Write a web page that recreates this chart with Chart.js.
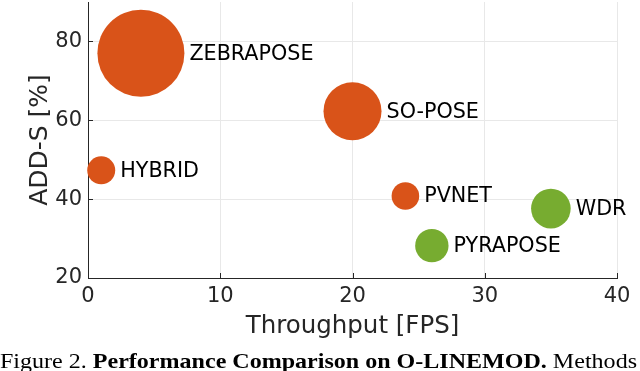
<!DOCTYPE html>
<html><head><meta charset="utf-8">
<script src="https://cdn.jsdelivr.net/npm/chart.js@4"></script>
<style>
html,body{margin:0;padding:0;background:#fff;}
#wrap{position:relative;width:640px;height:371px;overflow:hidden;background:#fff;}
canvas{position:absolute;left:0;top:0;}
#cap{position:absolute;left:0;top:350px;white-space:nowrap;font-family:"Liberation Serif","Times New Roman",serif;font-size:22px;color:#000;transform-origin:0 0;line-height:1;}
</style></head><body>
<div id="wrap"><canvas id="c" width="640" height="371"></canvas><div id="cap"><span>Figure 2. </span><b>Performance Comparison on O-LINEMOD.</b><span> Methods</span></div></div>
<script>
const methods = ['ZEBRAPOSE', 'SO-POSE', 'HYBRID', 'PVNET', 'WDR', 'PYRAPOSE'];
const throughputFps = [4, 20, 1, 24, 35, 26];
const addS = [77, 62.3, 47.3, 40.8, 37.6, 28.2];
const bubbleSize = [43.5, 29, 14, 13.8, 19.8, 16.7];
const methodGroup = ['a', 'a', 'a', 'a', 'b', 'b'];
const xTicks = [0, 10, 20, 30, 40];
const yTicks = [20, 40, 60, 80];

const groupColor = { a: '#D95319', b: '#77AC30' };
const axisColor = '#262626';
Chart.defaults.font.family = '"DejaVu Sans", sans-serif';

const points = methods.map((m, i) => ({ x: throughputFps[i], y: addS[i], r: bubbleSize[i] }));

const innerTicks = {
  id: 'innerTicks',
  beforeDatasetsDraw(chart) {
    const { ctx, chartArea: a, scales: { x, y } } = chart;
    const len = 5;
    ctx.save();
    ctx.strokeStyle = axisColor;
    ctx.lineWidth = 1;
    ctx.beginPath();
    xTicks.forEach(v => {
      const px = Math.round(x.getPixelForValue(v)) + 0.5;
      ctx.moveTo(px, a.bottom); ctx.lineTo(px, a.bottom - len);
    });
    yTicks.forEach(v => {
      const py = Math.round(y.getPixelForValue(v)) + 0.5;
      ctx.moveTo(a.left, py); ctx.lineTo(a.left + len, py);
    });
    ctx.stroke();
    ctx.restore();
  }
};

const pointLabels = {
  id: 'pointLabels',
  afterDatasetsDraw(chart) {
    const { ctx } = chart;
    const meta = chart.getDatasetMeta(0);
    ctx.save();
    ctx.fillStyle = '#000';
    ctx.font = '20.7px "DejaVu Sans"';
    ctx.textAlign = 'left';
    ctx.textBaseline = 'middle';
    meta.data.forEach((el, i) => {
      ctx.fillText(methods[i], el.x + el.options.radius + 5, el.y + 1);
    });
    ctx.restore();
  }
};

new Chart(document.getElementById('c'), {
  type: 'bubble',
  data: {
    datasets: [{
      data: points,
      backgroundColor: methodGroup.map(g => groupColor[g]),
      borderWidth: 0,
      hoverBorderWidth: 0,
      clip: false
    }]
  },
  options: {
    responsive: false,
    animation: false,
    devicePixelRatio: 1,
    layout: { autoPadding: false, padding: { left: 0, right: 23, top: 2, bottom: 0 } },
    plugins: { legend: { display: false }, tooltip: { enabled: false } },
    scales: {
      x: {
        type: 'linear', min: 0, max: 40,
        afterBuildTicks: s => { s.ticks = xTicks.map(v => ({ value: v })); },
        afterFit: s => { s.height = 93; s.paddingLeft = 0; s.paddingRight = 0; },
        ticks: { font: { size: 21 }, color: axisColor, padding: 6, maxRotation: 0, autoSkip: false },
        grid: { color: '#e8e8e8', drawTicks: false, lineWidth: 1 },
        border: { color: axisColor, width: 1 },
        title: { display: true, text: 'Throughput [FPS]', font: { size: 24.5 }, color: axisColor, padding: { top: 0, bottom: 30 } }
      },
      y: {
        type: 'linear', min: 20, max: 90,
        afterBuildTicks: s => { s.ticks = yTicks.map(v => ({ value: v })); },
        afterFit: s => { s.width = 88; s.paddingTop = 0; s.paddingBottom = 0; },
        ticks: { font: { size: 21 }, color: axisColor, padding: 6, autoSkip: false },
        grid: { color: '#e8e8e8', drawTicks: false, lineWidth: 1 },
        border: { color: axisColor, width: 1 },
        title: { display: true, text: 'ADD-S [%]', font: { size: 25 }, color: axisColor, padding: { top: 25, bottom: 0 } }
      }
    }
  },
  plugins: [innerTicks, pointLabels]
});

const cap = document.getElementById('cap');
const w = cap.getBoundingClientRect().width;
cap.style.transform = 'scaleX(' + (637 / w) + ')';
</script>
</body></html>
